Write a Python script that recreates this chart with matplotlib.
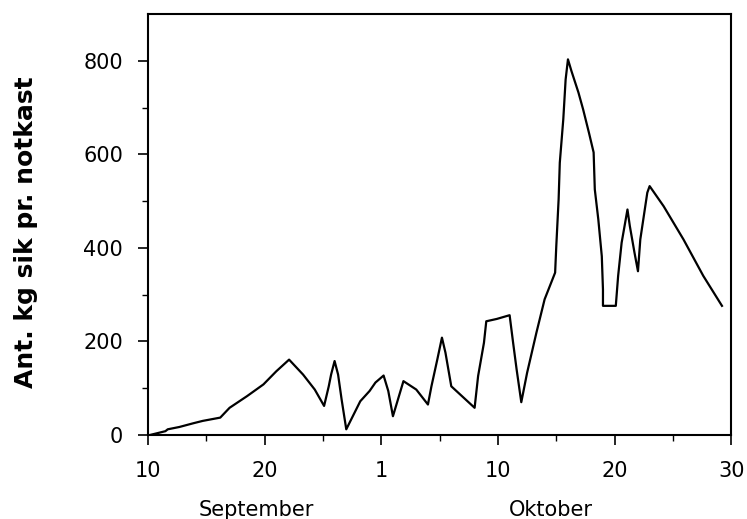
import numpy as np
import matplotlib
matplotlib.use("Agg")
import matplotlib.pyplot as plt
from matplotlib.transforms import blended_transform_factory

# day index: 10 = 10 Sep, 30 = 1 Oct, 40 = 10 Oct ...
day = [10.2, 11.5, 11.7, 12.7, 13.9, 14.7, 16.2, 17.0, 18.5, 19.9, 21.0, 22.1,
       23.3, 24.3, 25.1, 25.5, 25.7, 26.0, 26.3, 26.6, 27.0, 27.5, 28.2, 29.0,
       29.5, 30.2, 30.6, 31.0, 31.9, 33.0, 34.0, 34.3, 34.8, 35.2, 35.5, 36.0,
       38.0, 38.3, 38.8, 39.0, 39.9, 41.0, 41.3, 41.6, 42.0, 42.5, 43.3, 44.0,
       44.9, 45.0, 45.2, 45.3, 45.6, 45.8, 46.0, 46.3, 46.9, 47.3, 47.8, 48.2,
       48.3, 48.6, 48.9, 49.0, 49.0, 50.1, 50.3, 50.6, 51.1, 51.3, 51.7, 52.0,
       52.2, 52.5, 52.8, 53.0, 54.2, 55.9, 57.6, 59.2]
kg = [0, 8, 12, 17, 25, 30, 37, 58, 83, 108, 136, 161,
      129, 97, 62, 104, 129, 158, 129, 76, 12, 37, 72, 94,
      112, 127, 94, 40, 115, 97, 65, 104, 161, 208, 176, 104,
      58, 126, 197, 243, 248, 256, 197, 140, 70, 133, 219, 290,
      347, 404, 504, 582, 675, 760, 803, 778, 732, 696, 646, 604,
      525, 461, 382, 311, 276, 276, 340, 411, 482, 447, 390, 350,
      418, 468, 518, 532, 489, 418, 340, 276]

xticks = [10, 20, 30, 40, 50, 60]
xticklabels = ["10", "20", "1", "10", "20", "30"]
yticks = [0, 200, 400, 600, 800]
months = ["September", "Oktober"]
month_pos = [19.3, 44.5]

fig = plt.figure(figsize=(7.47, 5.19), dpi=100)
ax = fig.add_axes([0.198, 0.162, 0.781, 0.811])
ax.plot(day, kg, color="black", lw=1.6)

ax.set_xlim(10, 60)
ax.set_ylim(0, 900)
ax.set_xticks(xticks)
ax.set_xticklabels(xticklabels)
ax.set_xticks(np.arange(15, 60, 10), minor=True)
ax.set_yticks(yticks)
ax.set_yticks(np.arange(100, 900, 200), minor=True)
ax.tick_params(which="major", direction="out", length=7, width=1.2,
               labelsize=15)
ax.tick_params(axis="x", which="major", pad=12)
ax.tick_params(axis="y", which="major", pad=11)
ax.tick_params(which="minor", direction="out", length=4, width=1.0)
for s in ax.spines.values():
    s.set_linewidth(1.5)

ax.set_ylabel("Ant. kg sik pr. notkast", fontsize=18, fontweight="bold")
ax.yaxis.set_label_coords(-0.189, 0.482)

trans = blended_transform_factory(ax.transData, ax.transAxes)
for m, p in zip(months, month_pos):
    ax.text(p, -0.178, m, transform=trans, ha="center", va="center",
            fontsize=15)

fig.savefig("out.png", dpi=100)
